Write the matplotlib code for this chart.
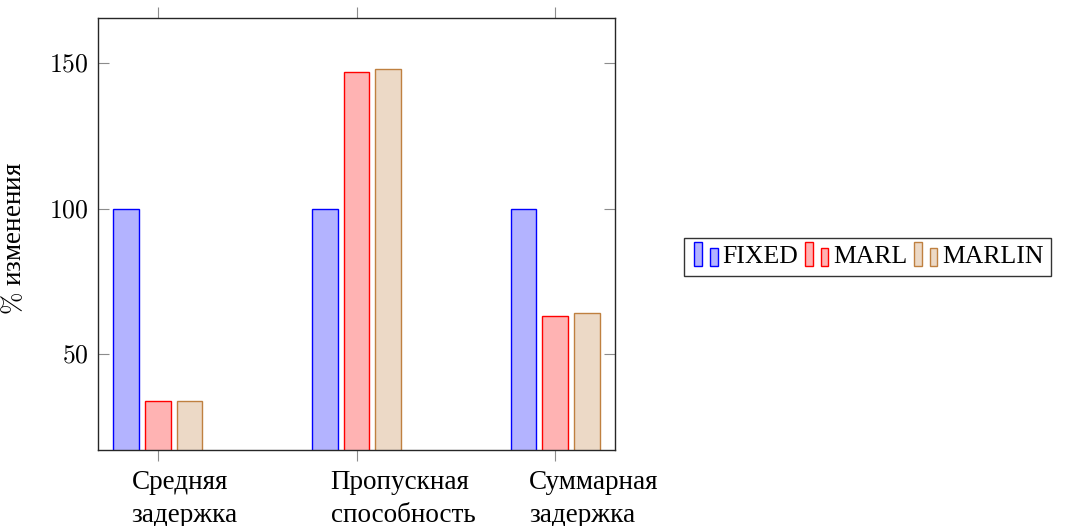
import numpy as np
import matplotlib
matplotlib.use("Agg")
import matplotlib.pyplot as plt
from matplotlib.patches import Rectangle
from matplotlib.legend_handler import HandlerBase
from matplotlib.transforms import ScaledTranslation

plt.rcParams['font.family'] = ['Liberation Serif', 'DejaVu Serif']
plt.rcParams['mathtext.fontset'] = 'cm'

# данные
categories = ['Средняя\nзадержка', 'Пропускная\nспособность', 'Суммарная\nзадержка']
series_names = ['FIXED', 'MARL', 'MARLIN']
fixed_vals = [100, 100, 100]
marl_vals = [34, 147, 63]
marlin_vals = [34, 148, 64]
y_ticks = [50, 100, 150]

faces = [(0.7, 0.7, 1.0), (1.0, 0.7, 0.7), (0.925, 0.85, 0.775)]
edges = [(0, 0, 1), (1, 0, 0), (0.75, 0.5, 0.25)]


class TwoBars(HandlerBase):
    # pgfplots-like legend: two small bars
    def create_artists(self, legend, orig_handle, xdescent, ydescent,
                       width, height, fontsize, trans):
        fc = orig_handle.get_facecolor()
        ec = orig_handle.get_edgecolor()
        bw = width * 0.3
        r1 = Rectangle((-xdescent + 2, -ydescent - 2), bw, height * 1.35,
                       facecolor=fc, edgecolor=ec, lw=1.0, transform=trans)
        r2 = Rectangle((-xdescent + 2 + width * 0.62, -ydescent - 2), bw * 0.95, height,
                       facecolor=fc, edgecolor=ec, lw=1.0, transform=trans)
        return [r1, r2]


fig = plt.figure(figsize=(10.69, 5.26), dpi=100)
ax = fig.add_axes([98 / 1069, 1 - 450 / 526, 517 / 1069, 432 / 526])

x = np.arange(len(categories))
bw = 0.13
off = 0.16
handles = []
for i, vals in enumerate([fixed_vals, marl_vals, marlin_vals]):
    b = ax.bar(x + (i - 1) * off, vals, width=bw, color=faces[i],
               edgecolor=edges[i], linewidth=1.0, label=series_names[i])
    handles.append(b.patches[0])

ax.set_xlim(-0.30, 2.30)
ax.set_ylim(17, 165.5)
ax.set_xticks(x)
ax.set_xticklabels([])
ax.set_yticks(y_ticks)
ax.set_yticklabels(['$%d$' % v for v in y_ticks], fontsize=18.5)

# подписи категорий, выровненные влево как в pgfplots
lbl_tr = ax.get_xaxis_transform() + ScaledTranslation(-0.26, -0.20, fig.dpi_scale_trans)
for xi, name in zip(x, categories):
    ax.text(xi, 0, name, transform=lbl_tr, ha='left', va='top',
            fontsize=19.5, linespacing=1.4)

ax.tick_params(axis='x', direction='out', top=True, bottom=True, length=8,
               width=0.8, color='0.55', pad=4)
ax.tick_params(axis='y', direction='in', left=True, right=True, length=8,
               width=0.8, color='0.55', pad=7)
for s in ax.spines.values():
    s.set_linewidth(1.0)
    s.set_color('0.15')

ax.set_ylabel(r'$\%$ изменения', fontsize=19.5)
ax.yaxis.set_label_coords(-0.138, 0.49)

leg = fig.legend(handles, series_names, loc='center left',
                 bbox_to_anchor=(684 / 1069, 1 - 257 / 526),
                 handler_map={h: TwoBars() for h in handles},
                 fontsize=18.5, ncol=3, frameon=True, fancybox=False,
                 handlelength=1.0, handleheight=0.7, handletextpad=0.2,
                 columnspacing=0.15, borderpad=0.3, borderaxespad=0)
leg.get_frame().set_edgecolor('black')
leg.get_frame().set_linewidth(1.0)

fig.savefig('out.png', dpi=100)
